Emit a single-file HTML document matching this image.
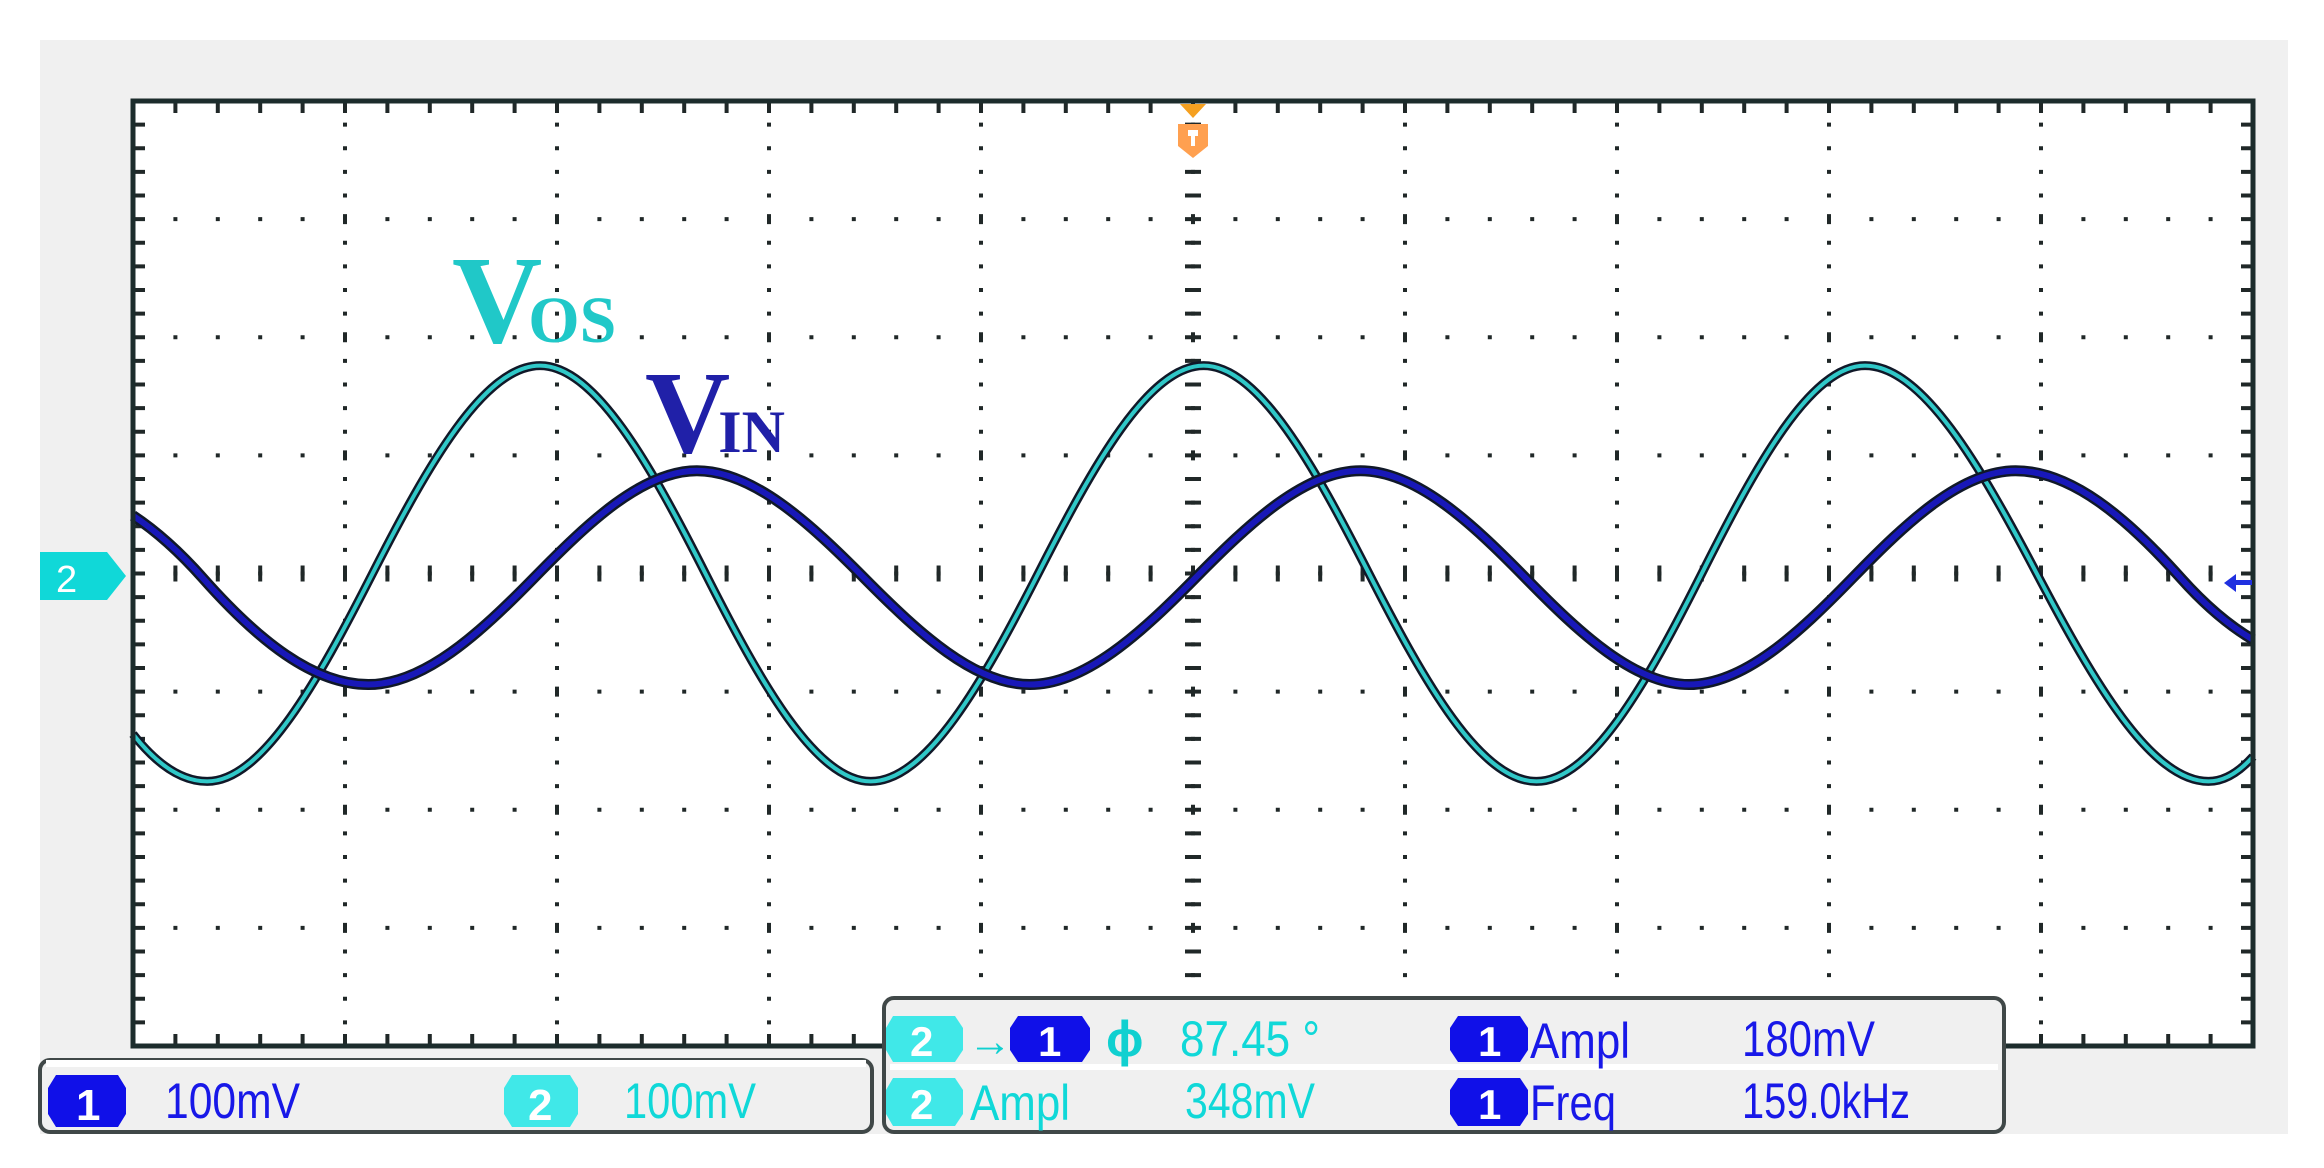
<!DOCTYPE html>
<html><head><meta charset="utf-8"><style>
html,body{margin:0;padding:0;background:#fff;}
#root{position:relative;width:2324px;height:1168px;overflow:hidden;background:#fff;font-family:"Liberation Sans",sans-serif;}
</style></head><body>
<div id="root">
<svg id="scope" width="2324" height="1168" viewBox="0 0 2324 1168" xmlns="http://www.w3.org/2000/svg">
  <rect x="40" y="40" width="2248" height="1094" fill="#f0f0f0"/>
  <rect x="133" y="101" width="2120" height="945" fill="#ffffff"/>
  <g id="grid"></g>
  <g id="traces"></g>
  <rect x="133" y="101" width="2120" height="945" fill="none" stroke="#1c2c2c" stroke-width="5"/>
  <g>
    <polygon points="1180,104 1206,104 1193,118" fill="#f5a020"/>
    <polygon points="1178,124 1208,124 1208,146 1193,158 1178,146" fill="#ffa050"/>
    <rect x="1188" y="130" width="10" height="6" fill="#fff"/>
    <rect x="1191" y="134" width="4" height="12" fill="#fff"/>
  </g>
  <g>
    <polygon points="40,552 107,552 126,576 107,600 40,600" fill="#10d8d8"/>
    <text x="56" y="592" font-size="38" fill="#fff" font-family="Liberation Sans, sans-serif">2</text>
  </g>
  <g>
    <polygon points="2224,583 2236,574 2236,592" fill="#2030e0"/>
    <rect x="2234" y="580" width="18" height="5" fill="#2030e0"/>
  </g>
  <text x="452" y="342" font-family="Liberation Serif, serif" font-weight="bold" font-size="125" fill="#20c8c8">V<tspan dx="-14" font-size="66">OS</tspan></text>
  <text x="645" y="452" font-family="Liberation Serif, serif" font-weight="bold" font-size="118" fill="#2020a8">V<tspan dx="-12" font-size="60">IN</tspan></text>

  <g>
    <rect x="40" y="1060" width="832" height="72" rx="10" fill="#f0f0f0" stroke="#404848" stroke-width="4"/>
    <rect x="46" y="1060" width="820" height="7" fill="#fff"/>
    <g>
      <polygon points="56,1075 118,1075 126,1088 126,1114 118,1127 56,1127 48,1114 48,1088" fill="#1010e8"/>
      <text x="76" y="1120" font-size="44" font-weight="bold" fill="#fff">1</text>
    </g>
    <text x="165" y="1118" font-size="50" fill="#1818e8" textLength="135" lengthAdjust="spacingAndGlyphs">100mV</text>
    <g>
      <polygon points="512,1075 570,1075 578,1088 578,1114 570,1127 512,1127 504,1114 504,1088" fill="#40e8e8"/>
      <text x="528" y="1120" font-size="44" font-weight="bold" fill="#fff">2</text>
    </g>
    <text x="624" y="1118" font-size="50" fill="#10d8d8" textLength="132" lengthAdjust="spacingAndGlyphs">100mV</text>
  </g>

  <g>
    <rect x="884" y="998" width="1120" height="134" rx="10" fill="#f0f0f0" stroke="#404848" stroke-width="4"/>
    <rect x="890" y="1064" width="1108" height="6" fill="#fff"/>
    <g>
      <polygon points="893,1016 955,1016 963,1028 963,1050 955,1062 893,1062 886,1050 886,1028" fill="#40e8e8"/>
      <text x="910" y="1056" font-size="42" font-weight="bold" fill="#fff">2</text>
      <text x="968" y="1056" font-size="44" font-weight="bold" fill="#10d0d0">→</text>
      <polygon points="1018,1016 1082,1016 1090,1028 1090,1050 1082,1062 1018,1062 1010,1050 1010,1028" fill="#1010e8"/>
      <text x="1038" y="1056" font-size="42" font-weight="bold" fill="#fff">1</text>
      <text x="1106" y="1056" font-size="50" font-weight="bold" fill="#10d0d0">ϕ</text>
      <text x="1180" y="1056" font-size="50" fill="#10d8d8" textLength="140" lengthAdjust="spacingAndGlyphs">87.45 °</text>
    </g>
    <g>
      <polygon points="1458,1016 1520,1016 1528,1028 1528,1050 1520,1062 1458,1062 1450,1050 1450,1028" fill="#1010e8"/>
      <text x="1478" y="1056" font-size="42" font-weight="bold" fill="#fff">1</text>
      <text x="1530" y="1058" font-size="50" fill="#1818e8" textLength="100" lengthAdjust="spacingAndGlyphs">Ampl</text>
      <text x="1742" y="1056" font-size="50" fill="#1818e8" textLength="133" lengthAdjust="spacingAndGlyphs">180mV</text>
    </g>
    <g>
      <polygon points="893,1078 955,1078 963,1090 963,1114 955,1126 893,1126 886,1114 886,1090" fill="#40e8e8"/>
      <text x="910" y="1119" font-size="42" font-weight="bold" fill="#fff">2</text>
      <text x="970" y="1120" font-size="50" fill="#10d8d8" textLength="100" lengthAdjust="spacingAndGlyphs">Ampl</text>
      <text x="1185" y="1118" font-size="50" fill="#10d8d8" textLength="130" lengthAdjust="spacingAndGlyphs">348mV</text>
    </g>
    <g>
      <polygon points="1458,1078 1520,1078 1528,1090 1528,1114 1520,1126 1458,1126 1450,1114 1450,1090" fill="#1010e8"/>
      <text x="1478" y="1119" font-size="42" font-weight="bold" fill="#fff">1</text>
      <text x="1530" y="1120" font-size="50" fill="#1818e8" textLength="86" lengthAdjust="spacingAndGlyphs">Freq</text>
      <text x="1742" y="1118" font-size="50" fill="#1818e8" textLength="168" lengthAdjust="spacingAndGlyphs">159.0kHz</text>
    </g>
  </g>
</svg>
</div>
<script>
// Time in divisions (0..10), voltages in mV (100 mV/div)
const vinTimes = [0, 0.33, 1.11, 1.89, 2.66, 3.45, 4.23, 5.01, 5.79, 6.57, 7.34, 8.11, 8.88, 9.66, 10];
const vinValues = [49, -4, -94, -4, 87, -4, -94, -4, 87, -4, -94, -4, 87, -4, -56];
const vosTimes = [0, 0.35, 1.13, 1.92, 2.70, 3.48, 4.27, 5.05, 5.83, 6.62, 7.40, 8.17, 8.98, 9.79, 10];
const vosValues = [-136, -176, 0, 176, 0, -176, 0, 176, 0, -176, 0, 176, 0, -176, -155];
const xDivs = [0,1,2,3,4,5,6,7,8,9,10];
const yDivs = [-4,-3,-2,-1,0,1,2,3,4];

const L=133, R=2253, T=101, B=1046;
const xs = d => L + d*(R-L)/10;
const ys = mv => (T+B)/2 - mv/100*(B-T)/8;
const NS="http://www.w3.org/2000/svg";
const grid=document.getElementById('grid');
function rect(x,y,w,h){const r=document.createElementNS(NS,'rect');r.setAttribute('x',x);r.setAttribute('y',y);r.setAttribute('width',w);r.setAttribute('height',h);r.setAttribute('fill','#202828');grid.appendChild(r);return r;}
xDivs.forEach(d=>{ if(d===0||d===10) return; const x=xs(d);
  for(let k=1;k<40;k++){ const y=T+k*(B-T)/40; if(k%5===0) continue; rect(x-2,y-2,4,4);}
  for(let k=1;k<8;k++){ const y=T+k*(B-T)/8; rect(x-2,y-5,4,10);} });
yDivs.forEach(v=>{ if(v===-4||v===4) return; const y=ys(v*100);
  for(let k=1;k<50;k++){ const x=L+k*(R-L)/50; if(k%5===0) continue; rect(x-2,y-2,4,4);} });
for(let k=1;k<50;k++){ const x=L+k*(R-L)/50; rect(x-2,ys(0)-8,4,16); rect(x-2,T,4,12); rect(x-2,B-12,4,12);}
for(let k=1;k<40;k++){ const y=T+k*(B-T)/40; rect(xs(5)-8,y-2,16,4); rect(L,y-2,12,4); rect(R-12,y-2,12,4);}

// Hermite curve with sine-like tangents: zero at extrema, pi/2 * secant at crossings
function pathFrom(ts,vs){
  const n=ts.length, m=new Array(n).fill(0);
  for(let i=1;i<n-1;i++){
    const ext=(vs[i]-vs[i-1])*(vs[i+1]-vs[i])<=0;
    m[i]=ext?0:Math.PI/2*(vs[i+1]-vs[i-1])/(ts[i+1]-ts[i-1]);
  }
  m[0]=2*(vs[1]-vs[0])/(ts[1]-ts[0])-m[1];
  m[n-1]=2*(vs[n-1]-vs[n-2])/(ts[n-1]-ts[n-2])-m[n-2];
  let d=`M${xs(ts[0])},${ys(vs[0])}`;
  for(let i=0;i<n-1;i++){
    const h=ts[i+1]-ts[i];
    const t1=ts[i]+h/3, v1=vs[i]+m[i]*h/3;
    const t2=ts[i+1]-h/3, v2=vs[i+1]-m[i+1]*h/3;
    d+=` C${xs(t1)},${ys(v1)} ${xs(t2)},${ys(v2)} ${xs(ts[i+1])},${ys(vs[i+1])}`;
  }
  return d;
}
const traces=document.getElementById('traces');
function trace(ts,vs,color,name,w){
  const g=document.createElementNS(NS,'g');
  
  
  const d=pathFrom(ts,vs);
  const a=document.createElementNS(NS,'path');a.setAttribute('d',d);a.setAttribute('fill','none');a.setAttribute('stroke','#101828');a.setAttribute('stroke-width',w+3);
  const b=document.createElementNS(NS,'path');b.setAttribute('d',d);b.setAttribute('fill','none');b.setAttribute('stroke',color);b.setAttribute('stroke-width',w-2);
  g.appendChild(a);g.appendChild(b);traces.appendChild(g);
}
trace(vosTimes,vosValues,'#30c8c8','vos-trace',6);
trace(vinTimes,vinValues,'#1818b8','vin-trace',8);
</script>
</body></html>
